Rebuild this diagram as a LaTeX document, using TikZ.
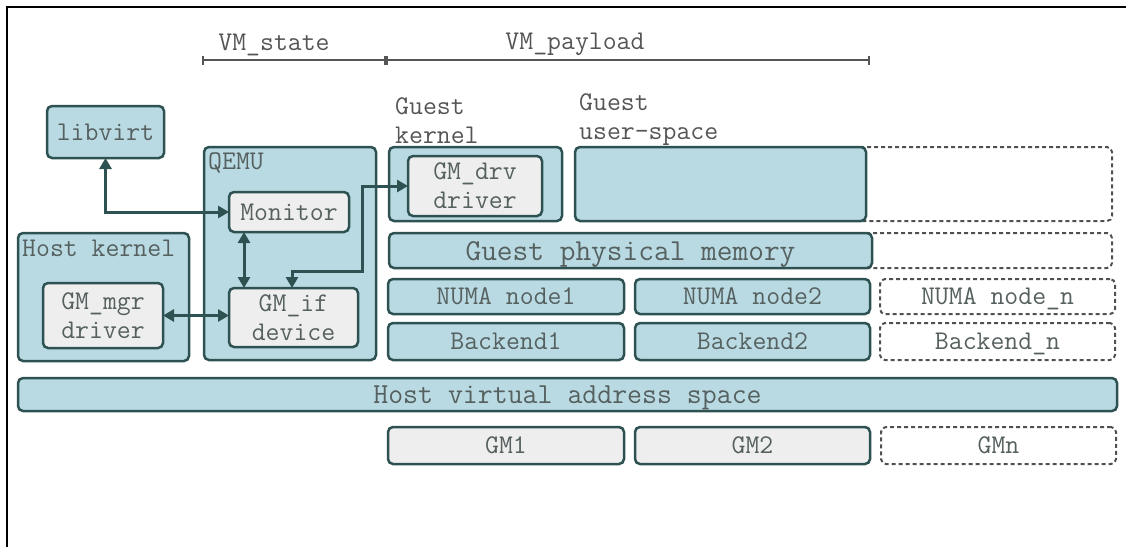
\documentclass[tikz,border=0pt]{standalone}
\usepackage{fontspec}
\usetikzlibrary{arrows.meta}
\definecolor{bfill}{HTML}{B9DAE3}
\definecolor{bdraw}{HTML}{2E5252}
\definecolor{gfill}{HTML}{EEEEEE}
\definecolor{tcol}{HTML}{55605F}
\definecolor{lcol}{HTML}{555555}
\definecolor{dcol}{HTML}{505050}
\tikzset{
  txt/.style={font=\ttfamily\fontsize{27}{29}\selectfont},
  box/.style={txt, draw=bdraw, line width=2.5pt, rounded corners=5pt, fill=bfill, inner sep=0pt, outer sep=0pt, text=tcol, align=center, text depth=0pt},
  gbox/.style={box, fill=gfill},
  dbox/.style={txt, draw=dcol, line width=2pt, dash pattern=on 4pt off 3pt, rounded corners=5pt, fill=white, inner sep=0pt, outer sep=0pt, text=tcol, align=center, text depth=0pt},
  dext/.style={draw=dcol, line width=2pt, dash pattern=on 4pt off 3pt, rounded corners=5pt},
  lbl/.style={txt, text=lcol, inner sep=0pt, align=left},
  conn/.style={draw=bdraw, line width=3pt, {Triangle[length=11pt,width=12pt]}-{Triangle[length=11pt,width=12pt]}},
  dim/.style={draw=lcol, line width=2.5pt, {Bar[width=9pt,line width=2pt]}-{Bar[width=9pt,line width=2pt]}},
}
\newcommand\bx[7]{\node[#6, minimum width={#4-#2}, minimum height={#5-#3}] (#1) at ({(#2+#4)/2},{(#3+#5)/2}) {#7};}
\begin{document}
\begin{tikzpicture}[x=1pt,y=-1pt]
\useasboundingbox (0,0) rectangle (1126,547);
% frame
\draw[black, line width=1.5pt] (7,547) -- (7,7) -- (1126,7);
% dimension lines
\coordinate (s1) at (202,60);
\coordinate (s2) at (386,60);
\coordinate (s3) at (870,60);
\draw[dim] (s1) -- (s2);
\draw[dim] (s2) -- (s3);
\node[lbl] (vmstate) at (274,45) {VM\_state};
\node[lbl] (vmpayload) at (575,44) {VM\_payload};
% labels
\node[lbl, anchor=west] (gk) at (395,121) {Guest\\kernel};
\node[lbl, anchor=west] (gu) at (579,120) {Guest\\user-space};
% left side
\bx{libvirt}{47}{106}{164}{158}{box}{libvirt}
\bx{hostk}{18}{233}{189}{361}{box}{}
\node[lbl, text=tcol, anchor=west] (hklbl) at (22,248) {Host kernel};
\bx{gmmgr}{43}{283}{163}{348}{gbox}{GM\_mgr\\driver}
\bx{qemu}{204}{147}{376}{360}{box}{}
\node[lbl, text=tcol, anchor=west] (qlbl) at (208,163) {QEMU};
\bx{monitor}{229}{192}{349}{232}{gbox}{Monitor}
\bx{gmif}{229}{288}{358}{347}{gbox}{GM\_if\\device}
% guest
\bx{gkbox}{389}{147}{562}{221}{box}{}
\bx{gmdrv}{408}{156}{542}{216}{gbox}{GM\_drv\\driver}
\draw[dext] (860,147) -- (1112,147) -- (1112,221) -- (860,221);
\bx{gubox}{575}{147}{866}{221}{box}{}
\draw[dext] (866,233) -- (1112,233) -- (1112,268) -- (866,268);
\bx{gpm}{389}{233}{872}{268}{box}{\fontsize{30.5}{29}\selectfont Guest physical memory}
\bx{numa1}{388}{279}{624}{314}{box}{NUMA node1}
\bx{numa2}{635}{279}{870}{314}{box}{NUMA node2}
\bx{numan}{880}{279}{1115}{314}{dbox}{NUMA node\_n}
\bx{be1}{388}{323}{624}{360}{box}{Backend1}
\bx{be2}{635}{323}{870}{360}{box}{Backend2}
\bx{ben}{880}{323}{1115}{360}{dbox}{Backend\_n}
\bx{hvas}{18}{378}{1117}{411}{box}{\fontsize{29}{29}\selectfont Host virtual address space}
\bx{gm1}{388}{427}{624}{464}{gbox}{GM1}
\bx{gm2}{635}{427}{870}{464}{gbox}{GM2}
\bx{gmn}{881}{427}{1116}{464}{dbox}{GMn}
% connectors
\draw[conn] (libvirt.south) |- (monitor.west);
\draw[conn] ([xshift=15pt]monitor.south west) -- ([xshift=15pt]gmif.north west);
\draw[conn] (gmmgr.east) -- (gmif.west |- gmmgr.east);
\coordinate (bend) at (362,271);
\draw[conn] (gmdrv.west) -| (bend) -| ([xshift=63pt]gmif.north west);
\end{tikzpicture}
\end{document}
